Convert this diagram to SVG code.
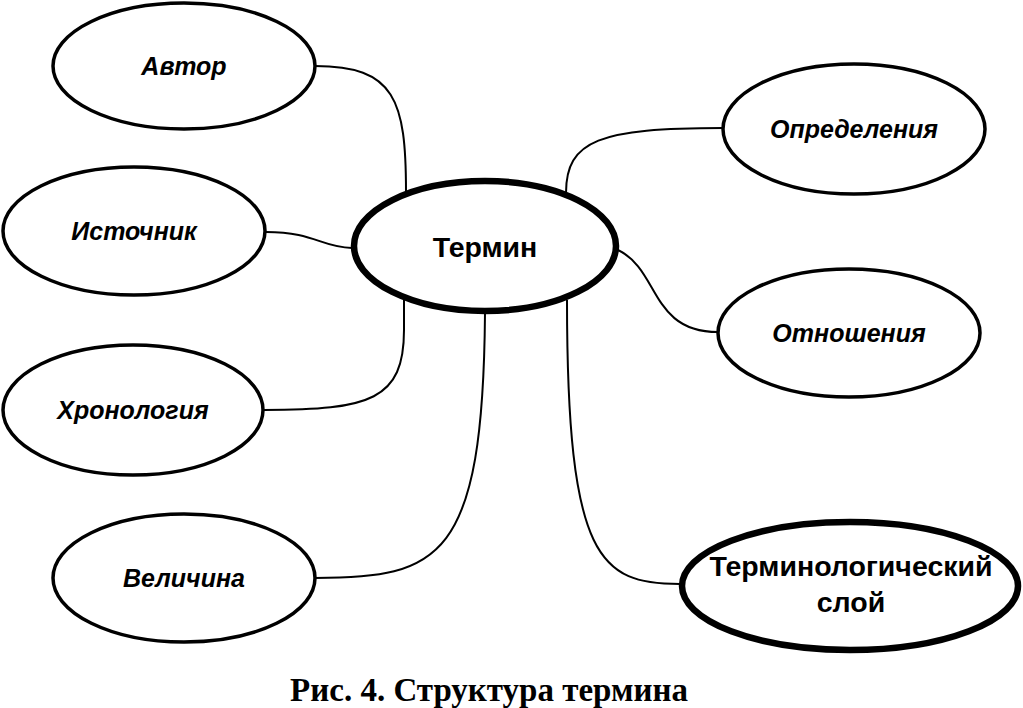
<svg xmlns="http://www.w3.org/2000/svg" width="1023" height="708" viewBox="0 0 1023 708">
<style>
.n{fill:#fff;stroke:#000;stroke-width:3.5}
.m{fill:#fff;stroke:#000;stroke-width:6.5}
.c{fill:none;stroke:#000;stroke-width:2}
.l{font-family:"Liberation Sans",Arial,sans-serif;font-weight:bold;font-style:italic;font-size:25px;text-anchor:middle;fill:#000}
.b{font-family:"Liberation Sans",Arial,sans-serif;font-weight:bold;font-size:28.5px;text-anchor:middle;fill:#000}
.cap{font-family:"Liberation Serif","Times New Roman",serif;font-weight:bold;font-size:33px;text-anchor:middle;fill:#000}
</style>
<rect width="1023" height="708" fill="#fff"/>
<g id="connectors">
<path class="c" d="M315,66 C395,66 406,100 406,192"/>
<path class="c" d="M266,232 C315,232 320,247 352,248"/>
<path class="c" d="M404,300 L404,330 C404,400 370,410 264,410"/>
<path class="c" d="M485,313 C483,560 440,578 315,578"/>
<path class="c" d="M566,193 C566,140 600,128 723,128"/>
<path class="c" d="M618,250 C660,270 650,332 718,332"/>
<path class="c" d="M567,300 C567,560 600,584 680,584"/>
</g>
<g id="avtor"><ellipse class="n" cx="184" cy="66" rx="131" ry="63"/><text class="l" x="184" y="75">Автор</text></g>
<g id="istochnik"><ellipse class="n" cx="134" cy="231" rx="131" ry="64"/><text class="l" x="134" y="240">Источник</text></g>
<g id="hronologiya"><ellipse class="n" cx="133" cy="410" rx="130" ry="65"/><text class="l" x="133" y="419">Хронология</text></g>
<g id="velichina"><ellipse class="n" cx="184" cy="578" rx="131" ry="64"/><text class="l" x="184" y="587">Величина</text></g>
<g id="opredeleniya"><ellipse class="n" cx="854" cy="129" rx="131" ry="65"/><text class="l" x="854" y="138">Определения</text></g>
<g id="otnosheniya"><ellipse class="n" cx="849" cy="333" rx="131" ry="64"/><text class="l" x="849" y="342">Отношения</text></g>
<g id="termin"><ellipse class="m" cx="485" cy="246" rx="131" ry="65"/><text class="b" x="485" y="257">Термин</text></g>
<g id="sloy"><ellipse class="m" cx="850" cy="586" rx="168" ry="64"/><text class="b" x="851" y="576">Терминологический</text><text class="b" x="851" y="612">слой</text></g>
<text class="cap" x="489" y="701">Рис. 4. Структура термина</text>
</svg>
